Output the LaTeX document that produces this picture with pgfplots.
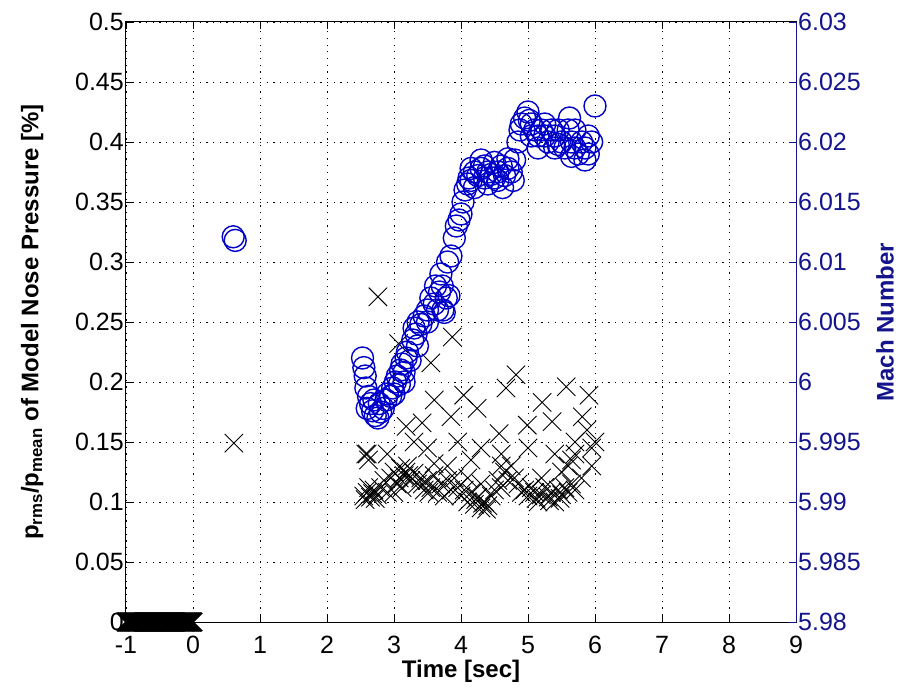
\documentclass[border=0pt]{standalone}
\usepackage{pgfplots}
\pgfplotsset{compat=1.18}
\usepackage{fontspec}
\setmainfont{Liberation Sans}
\definecolor{navy}{RGB}{20,20,140}
\definecolor{mblue}{RGB}{0,0,200}
\begin{document}
\begin{tikzpicture}
\useasboundingbox (-126pt,-72pt) rectangle (773pt,622pt);
\begin{axis}[
  at={(0,0)}, anchor=south west,
  scale only axis, width=670pt, height=600pt,
  xmin=-1, xmax=9, ymin=0, ymax=0.5,
  xtick={-1,0,...,9},
  ytick={0,0.05,0.1,0.15,0.2,0.25,0.3,0.35,0.4,0.45,0.5},
  yticklabels={0,0.05,0.1,0.15,0.2,0.25,0.3,0.35,0.4,0.45,0.5},
  xtick pos=both, ytick pos=left,
  tick align=inside, major tick length=7pt,
  grid=major,
  major grid style={black, line width=0.9pt, dash pattern=on 1.2pt off 5.5pt},
  axis line style={black, line width=1pt},
  tick style={black, line width=0.8pt},
  /pgf/number format/assume math mode=true,
  ticklabel style={font=\fontsize{25}{29}\selectfont, inner sep=2pt},
  xticklabel style={yshift=-12pt},
  xlabel={\textbf{Time [sec]}},
  xlabel style={font=\fontsize{24}{28}\selectfont, at={(axis description cs:0.5,-0.082)}, anchor=center},
  ylabel={\textbf{p\textsubscript{rms}/p\textsubscript{mean} of Model Nose Pressure [\%]}},
  ylabel style={font=\fontsize{24}{28}\selectfont, at={(axis description cs:-0.14,0.5)}, anchor=center},
  clip=false,
]
\addplot[only marks, mark=x, mark size=13pt, black, line width=1.6pt] coordinates {
(-1,0)(-0.99,0)(-0.98,0)(-0.97,0)(-0.96,0)(-0.95,0)(-0.94,0)(-0.93,0)(-0.92,0)(-0.91,0)
(-0.9,0)(-0.89,0)(-0.88,0)(-0.87,0)(-0.86,0)(-0.85,0)(-0.84,0)(-0.83,0)(-0.82,0)(-0.81,0)
(-0.8,0)(-0.79,0)(-0.78,0)(-0.77,0)(-0.76,0)(-0.75,0)(-0.74,0)(-0.73,0)(-0.72,0)(-0.71,0)
(-0.7,0)(-0.69,0)(-0.68,0)(-0.67,0)(-0.66,0)(-0.65,0)(-0.64,0)(-0.63,0)(-0.62,0)(-0.61,0)
(-0.6,0)(-0.59,0)(-0.58,0)(-0.57,0)(-0.56,0)(-0.55,0)(-0.54,0)(-0.53,0)(-0.52,0)(-0.51,0)
(-0.5,0)(-0.49,0)(-0.48,0)(-0.47,0)(-0.46,0)(-0.45,0)(-0.44,0)(-0.43,0)(-0.42,0)(-0.41,0)
(-0.4,0)(-0.39,0)(-0.38,0)(-0.37,0)(-0.36,0)(-0.35,0)(-0.34,0)(-0.33,0)(-0.32,0)(-0.31,0)
(-0.3,0)(-0.29,0)(-0.28,0)(-0.27,0)(-0.26,0)(-0.25,0)(-0.24,0)(-0.23,0)(-0.22,0)(-0.21,0)
(-0.2,0)(-0.19,0)(-0.18,0)(-0.17,0)(-0.16,0)(-0.15,0)(-0.14,0)(-0.13,0)(-0.12,0)(-0.11,0)
(-0.1,0)(-0.09,0)(-0.08,0)(-0.07,0)(-0.06,0)(-0.05,0)(-0.04,0)(-0.03,0)(-0.02,0)(-0.01,0)(0,0)
};
\addplot[only marks, mark=x, mark size=13pt, black, line width=0.9pt] coordinates {
(0.61,0.149)
(2.76,0.271)(3.87,0.2375)(3.55,0.216)(3.07,0.232)(4.82,0.206)(4.67,0.195)(4.04,0.189)(4.24,0.178)
(5.21,0.183)(5.57,0.196)(5.91,0.189)(4.99,0.164)(5.36,0.167)(5.81,0.171)(5.88,0.16)(3.85,0.171)
(3.42,0.166)(3.18,0.163)(4.57,0.157)(3.6,0.185)(3.3,0.15)(3.95,0.15)(4.3,0.145)(4.6,0.14)
(5.0,0.145)(5.4,0.14)(5.95,0.145)(6.0,0.15)(2.6,0.14)(2.9,0.14)(3.5,0.145)(4.15,0.135)(5.7,0.15)(5.95,0.13)
(2.55,0.105)(2.6,0.108)(2.65,0.104)(2.7,0.11)(2.75,0.106)(2.58,0.14)(2.62,0.135)
(2.57,0.102)(2.68,0.107)(2.72,0.103)(2.62,0.112)
(2.8,0.112)(2.85,0.118)(2.9,0.108)(2.95,0.12)(3.0,0.125)(3.05,0.115)(3.1,0.128)(3.15,0.122)
(3.2,0.13)(3.25,0.118)(3.3,0.124)(3.0,0.108)(3.12,0.112)(3.08,0.12)(3.18,0.125)(3.22,0.122)
(3.35,0.115)(3.4,0.12)(3.45,0.11)(3.5,0.118)(3.55,0.112)(3.6,0.122)(3.65,0.108)(3.7,0.115)
(3.75,0.105)(3.8,0.118)(3.85,0.11)(3.9,0.12)(3.6,0.132)(3.8,0.13)(3.42,0.115)(3.52,0.108)
(3.95,0.112)(4.0,0.105)(4.05,0.11)(4.1,0.1)(4.15,0.108)(4.2,0.098)(4.25,0.104)(4.3,0.095)
(4.35,0.1)(4.4,0.097)(4.45,0.105)(4.1,0.12)(4.3,0.115)(4.22,0.102)(4.32,0.099)(4.38,0.094)
(4.5,0.11)(4.55,0.118)(4.6,0.112)(4.65,0.125)(4.7,0.118)(4.75,0.13)(4.8,0.12)(4.85,0.115)(4.9,0.108)(4.6,0.13)
(4.95,0.11)(5.0,0.105)(5.05,0.112)(5.1,0.108)(5.15,0.1)(5.2,0.106)(5.25,0.112)(5.3,0.104)
(5.35,0.108)(5.4,0.1)(5.45,0.11)(5.5,0.106)(5.55,0.112)(5.6,0.108)(5.65,0.115)(5.7,0.11)
(5.2,0.12)(5.5,0.125)(5.6,0.13)(5.65,0.135)(5.7,0.14)(5.8,0.12)(5.12,0.103)(5.32,0.101)(5.48,0.103)
};
\end{axis}
\begin{axis}[
  at={(0,0)}, anchor=south west,
  scale only axis, width=670pt, height=600pt,
  xmin=-1, xmax=9, ymin=5.98, ymax=6.03,
  axis x line=none, axis y line*=right,
  ytick={5.98,5.985,5.99,5.995,6,6.005,6.01,6.015,6.02,6.025,6.03},
  yticklabels={5.98,5.985,5.99,5.995,6,6.005,6.01,6.015,6.02,6.025,6.03},
  tick align=inside, major tick length=7pt,
  axis line style={navy, line width=1pt},
  tick style={navy, line width=0.8pt},
  yticklabel style={font=\fontsize{25}{29}\selectfont, navy, inner sep=2pt},
  ylabel={\textbf{Mach Number}},
  ylabel style={font=\fontsize{24}{28}\selectfont, navy, at={(axis description cs:1.133,0.5)}, anchor=center},
  clip=false,
]
\addplot[only marks, mark=o, mark size=11pt, mblue, line width=1.4pt] coordinates {
(0.6,6.0121)(0.63,6.0118)
(2.53,6.0020)(2.55,6.0012)(2.57,6.0005)(2.58,5.9995)(2.62,5.9988)(2.65,5.9982)(2.68,5.9976)
(2.72,5.9972)(2.76,5.9970)(2.8,5.9975)(2.78,5.9982)(2.84,5.9978)(2.88,5.9985)(2.9,5.9990)
(2.95,5.9988)(2.98,5.9995)(3.02,6.0000)(3.05,6.0005)(3.08,5.9998)(3.1,6.0010)(3.12,6.0015)
(3.15,6.0008)(3.18,6.0020)(3.2,6.0025)(3.24,6.0018)(3.28,6.0035)(3.3,6.0045)(3.33,6.0040)
(3.36,6.0050)(3.4,6.0048)(3.45,6.0055)(3.5,6.0060)(3.55,6.0070)(3.6,6.0065)(3.62,6.0080)
(3.68,6.0075)(3.7,6.0090)(3.73,6.0060)(3.78,6.0070)(3.8,6.0100)(3.85,6.0105)(3.9,6.0120)
(3.93,6.0130)(3.97,6.0135)(4.0,6.0140)(4.03,6.0150)(4.06,6.0160)(4.1,6.0165)(4.12,6.0170)
(4.15,6.0168)(4.2,6.0175)(4.25,6.0172)(4.3,6.0178)(4.35,6.0170)(4.4,6.0175)(4.45,6.0173)
(4.5,6.0170)(4.55,6.0175)(4.6,6.0180)(4.65,6.0172)(4.7,6.0178)(4.75,6.0175)(4.8,6.0185)
(4.85,6.0200)(4.88,6.0210)(4.9,6.0215)(4.95,6.0220)(5.0,6.0225)(5.02,6.0218)(5.05,6.0215)
(5.1,6.0210)(5.15,6.0205)(5.2,6.0210)(5.25,6.0205)(5.3,6.0200)(5.35,6.0210)(5.4,6.0205)
(5.45,6.0198)(5.5,6.0200)(5.55,6.0195)(5.6,6.0210)(5.62,6.0220)(5.65,6.0200)(5.7,6.0195)
(5.75,6.0190)(5.8,6.0200)(5.85,6.0195)(5.9,6.0190)(5.95,6.0200)(6.0,6.0230)
(2.6,5.9978)(2.7,5.9985)(3.0,5.9990)(3.15,6.0000)(3.35,6.0030)(3.5,6.0050)(3.65,6.0060)
(4.15,6.0178)(4.35,6.0180)(4.55,6.0168)(5.05,6.0205)(5.25,6.0215)(5.45,6.0210)(5.7,6.0210)(5.9,6.0205)
(4.2,6.0162)(4.4,6.0165)(4.62,6.0162)(4.78,6.0168)(4.3,6.0185)(4.5,6.0183)(4.7,6.0186)
(3.75,6.0058)(3.82,6.0072)(3.72,6.0080)(5.15,6.0195)(5.4,6.0195)(5.65,6.0188)(5.85,6.0185)
};
\end{axis}
\end{tikzpicture}
\end{document}
